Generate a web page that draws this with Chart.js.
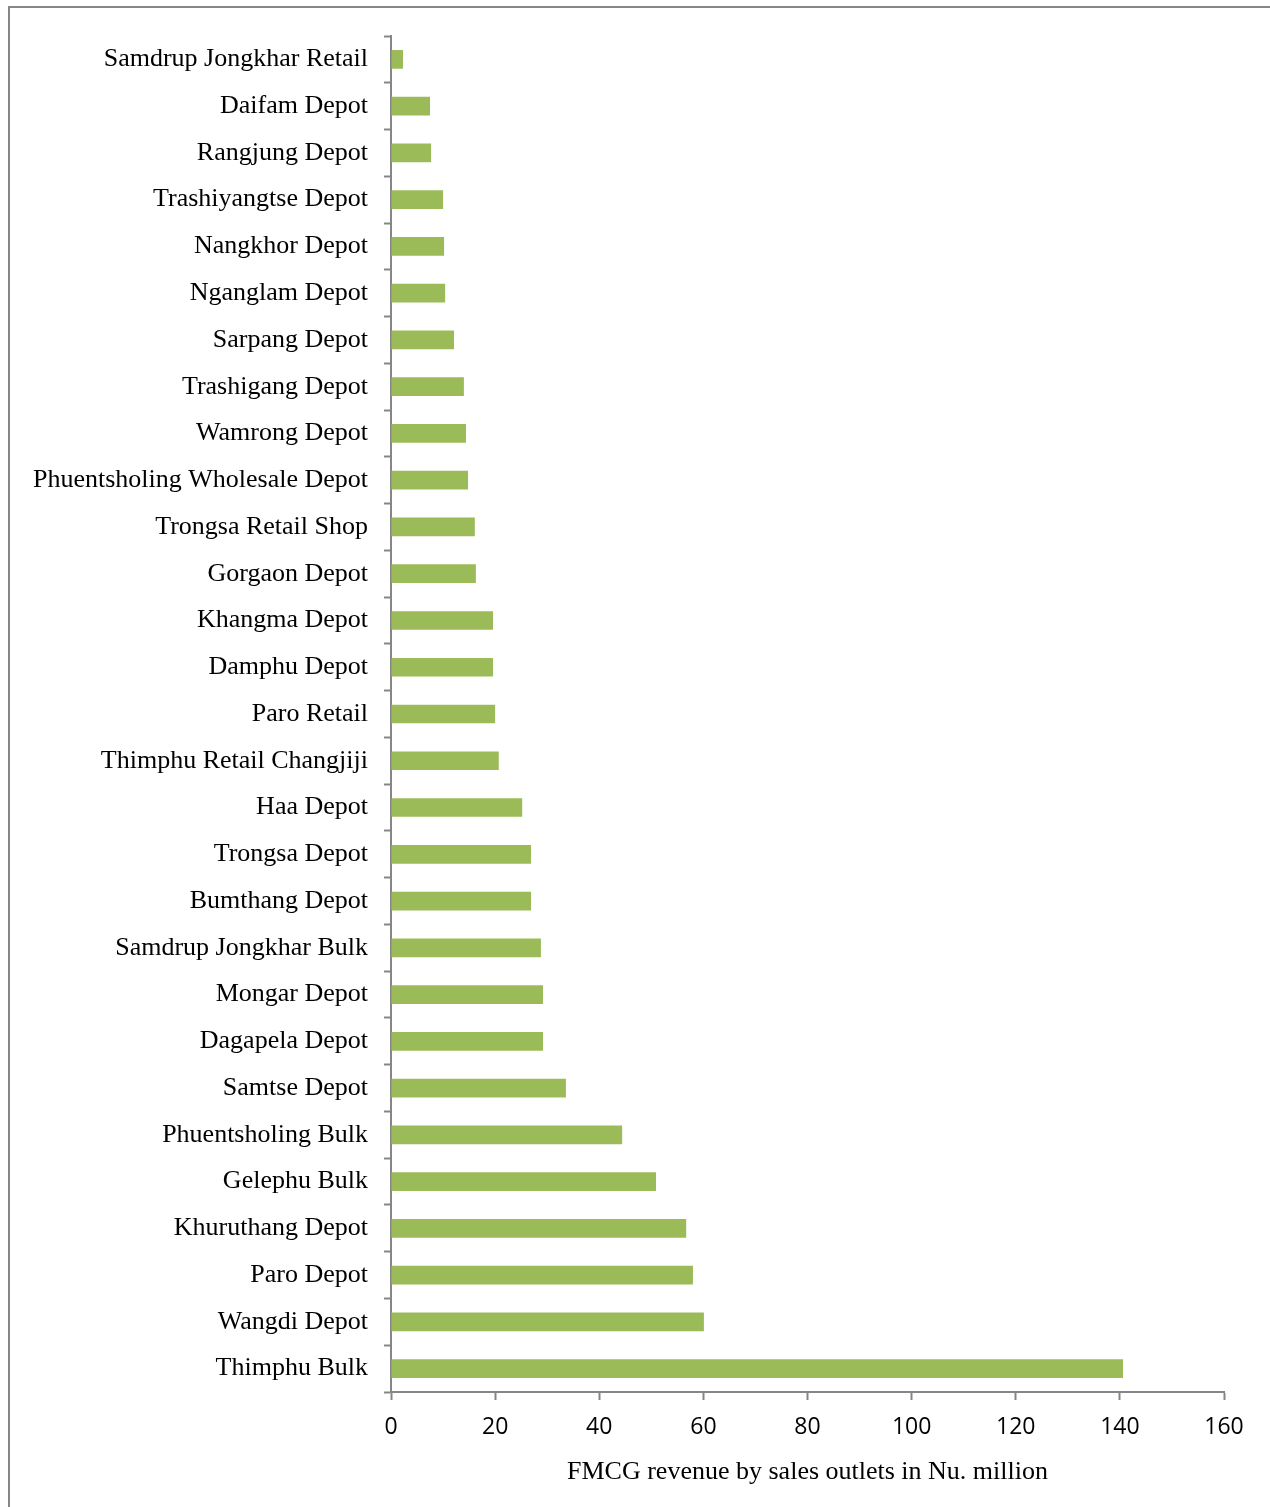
<!DOCTYPE html>
<html>
<head>
<meta charset="utf-8">
<script src="https://cdn.jsdelivr.net/npm/chart.js@4.4.0/dist/chart.umd.min.js"></script>
<style>
  html, body { margin: 0; padding: 0; background: #ffffff; }
  #wrap { position: relative; width: 1270px; height: 1507px; }
</style>
</head>
<body>
<div id="wrap"><canvas id="chart" width="1270" height="1507"></canvas></div>
<script>
// Sales outlets, listed top to bottom
const outlets = [
  'Samdrup Jongkhar Retail', 'Daifam Depot', 'Rangjung Depot', 'Trashiyangtse Depot',
  'Nangkhor Depot', 'Nganglam Depot', 'Sarpang Depot', 'Trashigang Depot',
  'Wamrong Depot', 'Phuentsholing Wholesale Depot', 'Trongsa Retail Shop', 'Gorgaon Depot',
  'Khangma Depot', 'Damphu Depot', 'Paro Retail', 'Thimphu Retail Changjiji',
  'Haa Depot', 'Trongsa Depot', 'Bumthang Depot', 'Samdrup Jongkhar Bulk',
  'Mongar Depot', 'Dagapela Depot', 'Samtse Depot', 'Phuentsholing Bulk',
  'Gelephu Bulk', 'Khuruthang Depot', 'Paro Depot', 'Wangdi Depot', 'Thimphu Bulk'
];

// FMCG revenue, Nu. million
const revenue = [
  2.3, 7.5, 7.7, 10.0,
  10.2, 10.4, 12.1, 14.0,
  14.4, 14.8, 16.1, 16.3,
  19.6, 19.6, 20.0, 20.7,
  25.2, 26.9, 26.9, 28.8,
  29.2, 29.2, 33.6, 44.4,
  50.9, 56.7, 58.0, 60.1, 140.6
];

const xTicks = [0, 20, 40, 60, 80, 100, 120, 140, 160];
const xTitle = 'FMCG revenue by sales outlets in Nu. million';

const axisGrey = '#868686';
const barGreen = '#9BBB59';
const serif = "'Liberation Serif', 'DejaVu Serif', serif";
const sans = "'Open Sans', 'Liberation Sans', sans-serif";

// Frame lines along the left and top edges
const framePlugin = {
  id: 'frame',
  beforeDraw(chart) {
    const ctx = chart.ctx;
    ctx.save();
    ctx.fillStyle = '#ffffff';
    ctx.fillRect(0, 0, chart.width, chart.height);
    ctx.strokeStyle = axisGrey;
    ctx.lineWidth = 2;
    ctx.beginPath();
    ctx.moveTo(9, chart.height);
    ctx.lineTo(9, 7);
    ctx.lineTo(chart.width, 7);
    ctx.stroke();
    ctx.restore();
  }
};

new Chart(document.getElementById('chart'), {
  type: 'bar',
  data: {
    labels: outlets,
    datasets: [{
      data: revenue,
      backgroundColor: barGreen,
      borderWidth: 0,
      categoryPercentage: 1.0,
      barPercentage: 0.4
    }]
  },
  options: {
    indexAxis: 'y',
    responsive: false,
    animation: false,
    devicePixelRatio: 1,
    layout: { padding: { top: 36, right: 46, left: 0, bottom: 0 } },
    plugins: {
      legend: { display: false },
      tooltip: { enabled: false }
    },
    scales: {
      y: {
        grid: {
          display: true,
          drawOnChartArea: false,
          drawTicks: true,
          tickLength: 7,
          tickWidth: 2,
          tickColor: axisGrey,
          offset: true
        },
        border: { display: true, color: axisGrey, width: 2 },
        ticks: {
          color: '#000000',
          padding: 16,
          autoSkip: false,
          font: { family: serif, size: 26 }
        },
        afterFit(scale) { scale.width = 391; }
      },
      x: {
        min: 0,
        max: 160,
        afterBuildTicks(scale) { scale.ticks = xTicks.map(v => ({ value: v })); },
        grid: {
          display: true,
          drawOnChartArea: false,
          drawTicks: true,
          tickLength: 8,
          tickWidth: 2,
          tickColor: axisGrey
        },
        border: { display: true, color: axisGrey, width: 2 },
        ticks: {
          color: '#000000',
          padding: 14,
          font: { family: sans, size: 23 }
        },
        title: {
          display: true,
          text: xTitle,
          color: '#000000',
          font: { family: serif, size: 26 },
          padding: { top: 0, bottom: 19 }
        },
        afterFit(scale) { scale.height = 115; }
      }
    }
  },
  plugins: [framePlugin]
});
</script>
</body>
</html>
